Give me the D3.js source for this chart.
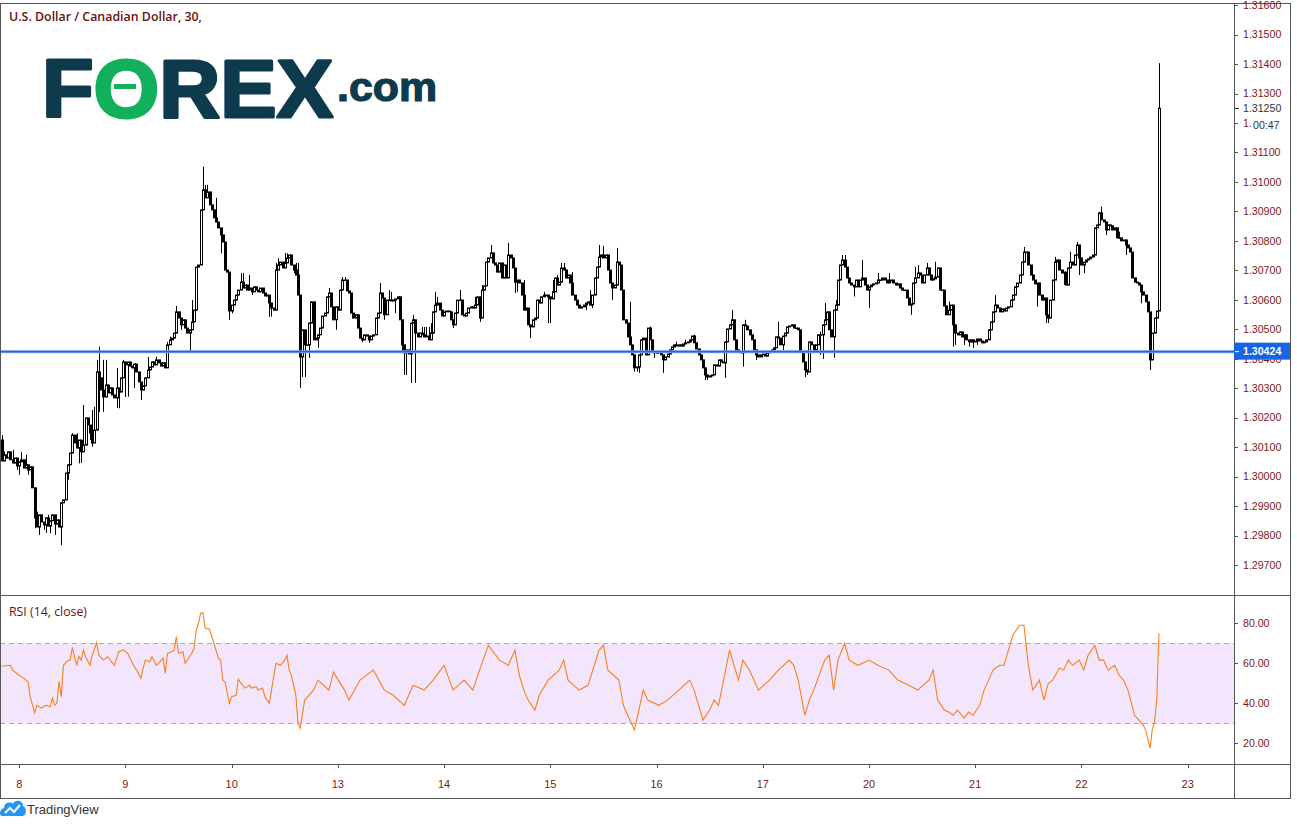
<!DOCTYPE html>
<html><head><meta charset="utf-8">
<script src="https://cdn.jsdelivr.net/npm/d3@7"></script>
<style>
html,body{margin:0;padding:0;background:#fff;}
svg{display:block;}
</style></head><body>
<svg id="c" width="1297" height="828"></svg>
<script>
// ---------------- DATA ----------------
const title = "U.S. Dollar / Canadian Dollar, 30,";
const rsiTitle = "RSI (14, close)";
const dayLabels = ["8","9","10","13","14","15","16","17","20","21","22","23"];
const barsPerDay = 48;           // 30-minute bars
const firstDayBar = 8;           // bar index of the first day boundary
const priceTicks = [1.297,1.298,1.299,1.300,1.301,1.302,1.303,1.304,1.305,1.306,1.307,1.308,1.309,1.310,1.311,1.312,1.313,1.314,1.315,1.316];
const rsiTicks = [20,40,60,80];
const rsiBands = [30,70];
const hLineLevel = 1.30424;
const countdown = "00:47";
const firstOpen = 1.30124;
const closes = [
1.30053,1.30074,1.30063,1.30084,1.30057,1.30046,1.30063,1.30036,1.30050,1.30057,1.30029,1.30040,1.30023,1.30033,1.29962,1.29860,1.29829,1.29870,1.29846,1.29836,
1.29860,1.29832,1.29850,1.29870,1.29839,1.29853,1.29829,1.29911,1.29921,1.30012,1.30040,1.30080,1.30141,1.30114,1.30097,1.30124,1.30084,1.30107,1.30199,1.30175,
1.30148,1.30114,1.30158,1.30355,1.30335,1.30294,1.30270,1.30311,1.30284,1.30301,1.30277,1.30267,1.30301,1.30287,1.30335,1.30389,1.30379,1.30389,1.30375,1.30369,
1.30382,1.30355,1.30321,1.30294,1.30308,1.30335,1.30362,1.30372,1.30389,1.30379,1.30396,1.30386,1.30375,1.30386,1.30369,1.30447,1.30464,1.30470,1.30487,1.30559,
1.30538,1.30515,1.30532,1.30504,1.30487,1.30498,1.30525,1.30565,1.30711,1.30718,1.30905,1.30973,1.30946,1.30966,1.30922,1.30905,1.30878,1.30864,1.30844,1.30820,
1.30796,1.30701,1.30694,1.30562,1.30582,1.30599,1.30616,1.30633,1.30660,1.30640,1.30650,1.30633,1.30640,1.30627,1.30644,1.30633,1.30627,1.30640,1.30623,1.30613,
1.30616,1.30589,1.30572,1.30565,1.30701,1.30718,1.30728,1.30708,1.30725,1.30742,1.30752,1.30718,1.30701,1.30684,1.30616,1.30406,1.30498,1.30447,1.30447,1.30521,
1.30593,1.30464,1.30470,1.30481,1.30504,1.30545,1.30555,1.30610,1.30623,1.30576,1.30532,1.30576,1.30565,1.30633,1.30667,1.30667,1.30630,1.30623,1.30555,1.30538,
1.30549,1.30504,1.30470,1.30464,1.30481,1.30477,1.30464,1.30477,1.30481,1.30538,1.30555,1.30623,1.30606,1.30549,1.30599,1.30599,1.30596,1.30599,1.30603,1.30610,
1.30532,1.30447,1.30420,1.30430,1.30416,1.30521,1.30532,1.30487,1.30474,1.30487,1.30481,1.30474,1.30477,1.30464,1.30487,1.30559,1.30582,1.30589,1.30565,1.30545,
1.30559,1.30562,1.30559,1.30532,1.30515,1.30555,1.30599,1.30599,1.30549,1.30545,1.30555,1.30572,1.30576,1.30572,1.30582,1.30610,1.30538,1.30633,1.30647,1.30728,
1.30742,1.30759,1.30725,1.30718,1.30694,1.30725,1.30674,1.30718,1.30674,1.30752,1.30742,1.30708,1.30660,1.30667,1.30657,1.30616,1.30565,1.30572,1.30515,1.30508,
1.30532,1.30538,1.30599,1.30589,1.30610,1.30616,1.30616,1.30610,1.30603,1.30627,1.30674,1.30650,1.30660,1.30708,1.30701,1.30674,1.30684,1.30657,1.30616,1.30599,
1.30582,1.30572,1.30576,1.30582,1.30589,1.30593,1.30582,1.30616,1.30674,1.30711,1.30745,1.30752,1.30742,1.30752,1.30701,1.30657,1.30640,1.30650,1.30728,1.30718,
1.30633,1.30532,1.30521,1.30474,1.30447,1.30413,1.30369,1.30372,1.30413,1.30464,1.30470,1.30413,1.30504,1.30464,1.30423,1.30420,1.30420,1.30423,1.30413,1.30396,
1.30406,1.30416,1.30430,1.30440,1.30447,1.30443,1.30447,1.30443,1.30450,1.30454,1.30457,1.30464,1.30477,1.30454,1.30433,1.30413,1.30396,1.30369,1.30345,1.30338,
1.30342,1.30345,1.30379,1.30375,1.30396,1.30389,1.30386,1.30457,1.30501,1.30515,1.30532,1.30464,1.30430,1.30423,1.30420,1.30515,1.30511,1.30498,1.30481,1.30464,
1.30430,1.30413,1.30406,1.30413,1.30416,1.30409,1.30420,1.30423,1.30430,1.30437,1.30474,1.30470,1.30447,1.30477,1.30487,1.30508,1.30511,1.30515,1.30504,1.30504,
1.30498,1.30423,1.30389,1.30362,1.30355,1.30457,1.30447,1.30430,1.30447,1.30481,1.30481,1.30515,1.30532,1.30559,1.30498,1.30474,1.30565,1.30582,1.30667,1.30718,
1.30735,1.30711,1.30674,1.30657,1.30650,1.30644,1.30667,1.30644,1.30667,1.30674,1.30650,1.30633,1.30644,1.30650,1.30654,1.30657,1.30667,1.30667,1.30674,1.30667,
1.30657,1.30664,1.30667,1.30657,1.30650,1.30654,1.30640,1.30633,1.30633,1.30606,1.30582,1.30586,1.30657,1.30674,1.30691,1.30684,1.30657,1.30684,1.30708,1.30684,
1.30667,1.30671,1.30677,1.30708,1.30633,1.30633,1.30579,1.30549,1.30565,1.30582,1.30515,1.30487,1.30481,1.30491,1.30474,1.30481,1.30464,1.30457,1.30464,1.30457,
1.30460,1.30467,1.30460,1.30454,1.30457,1.30464,1.30498,1.30525,1.30559,1.30582,1.30572,1.30559,1.30569,1.30562,1.30572,1.30576,1.30599,1.30616,1.30644,1.30657,
1.30684,1.30728,1.30762,1.30762,1.30718,1.30684,1.30667,1.30654,1.30657,1.30616,1.30599,1.30606,1.30549,1.30538,1.30599,1.30667,1.30728,1.30735,1.30701,1.30691,
1.30694,1.30650,1.30708,1.30728,1.30718,1.30752,1.30786,1.30742,1.30718,1.30728,1.30735,1.30739,1.30745,1.30752,1.30844,1.30854,1.30895,1.30871,1.30864,1.30837,
1.30854,1.30851,1.30837,1.30844,1.30810,1.30810,1.30800,1.30803,1.30786,1.30776,1.30762,1.30674,1.30660,1.30657,1.30650,1.30627,1.30616,1.30593,1.30559,1.30396,
1.30487,1.30538,1.30562,1.31250
];
// wick extremes: [bar index, price]
const wickHighs = [[0,1.30141],[1,1.30085],[5,1.30091],[9,1.30084],[11,1.30074],[16,1.29881],[21,1.29870],[32,1.30148],[34,1.30147],[37,1.30243],[41,1.30226],[42,1.30237],[43,1.30396],[44,1.30441],[46,1.30396],[47,1.30396],[52,1.30369],[55,1.30396],[66,1.30406],[70,1.30407],[75,1.30457],[76,1.30475],[79,1.30579],[86,1.30599],[91,1.31052],[92,1.30990],[93,1.30990],[97,1.30946],[108,1.30690],[109,1.30691],[112,1.30684],[124,1.30725],[125,1.30741],[128,1.30759],[129,1.30758],[133,1.30725],[134,1.30725],[141,1.30593],[148,1.30640],[149,1.30623],[154,1.30677],[155,1.30677],[171,1.30657],[175,1.30633],[176,1.30627],[186,1.30549],[190,1.30508],[191,1.30508],[192,1.30508],[193,1.30508],[194,1.30521],[196,1.30627],[197,1.30610],[207,1.30633],[214,1.30610],[217,1.30650],[221,1.30786],[229,1.30793],[230,1.30752],[231,1.30728],[236,1.30667],[245,1.30627],[249,1.30667],[251,1.30684],[252,1.30660],[253,1.30725],[254,1.30725],[258,1.30694],[266,1.30633],[270,1.30786],[272,1.30783],[278,1.30776],[284,1.30593],[293,1.30509],[305,1.30458],[309,1.30464],[313,1.30481],[330,1.30565],[331,1.30532],[336,1.30532],[351,1.30526],[370,1.30492],[372,1.30589],[377,1.30599],[380,1.30752],[381,1.30752],[389,1.30735],[396,1.30691],[401,1.30691],[413,1.30712],[414,1.30718],[418,1.30725],[422,1.30729],[428,1.30594],[449,1.30616],[462,1.30779],[476,1.30746],[483,1.30763],[486,1.30796],[497,1.30916],[505,1.30831],[523,1.31403]];
const wickLows = [[7,1.30023],[8,1.30006],[12,1.30006],[15,1.29825],[17,1.29802],[19,1.29819],[20,1.29809],[22,1.29808],[24,1.29802],[27,1.29768],[30,1.29989],[35,1.30045],[36,1.30046],[40,1.30124],[41,1.30101],[44,1.30219],[46,1.30220],[52,1.30233],[53,1.30232],[56,1.30270],[57,1.30271],[60,1.30300],[63,1.30260],[81,1.30498],[85,1.30423],[99,1.30758],[103,1.30532],[104,1.30554],[113,1.30616],[121,1.30542],[122,1.30543],[132,1.30690],[135,1.30301],[136,1.30338],[137,1.30338],[139,1.30403],[143,1.30437],[151,1.30498],[163,1.30457],[166,1.30454],[173,1.30532],[178,1.30555],[181,1.30420],[182,1.30345],[183,1.30345],[185,1.30318],[187,1.30318],[204,1.30504],[216,1.30525],[232,1.30623],[233,1.30627],[239,1.30470],[247,1.30521],[248,1.30521],[264,1.30565],[267,1.30572],[276,1.30599],[286,1.30356],[287,1.30356],[288,1.30352],[295,1.30403],[299,1.30352],[318,1.30328],[319,1.30328],[327,1.30335],[335,1.30373],[341,1.30396],[353,1.30430],[363,1.30338],[364,1.30345],[370,1.30413],[371,1.30399],[376,1.30403],[385,1.30611],[392,1.30572],[411,1.30549],[430,1.30441],[431,1.30447],[435,1.30447],[437,1.30441],[439,1.30436],[441,1.30447],[468,1.30577],[472,1.30521],[473,1.30521],[480,1.30650],[487,1.30684],[489,1.30690],[499,1.30820],[508,1.30752],[515,1.30588],[519,1.30362]];
// RSI(14) line: bar index and value
const rsiBars = [0,4,5,8,10,12,13,15,16,18,20,22,23,24,25,26,27,28,30,31,32,33,34,35,36,37,38,40,41,43,44,46,48,51,53,55,57,58,60,61,63,64,65,67,68,70,71,73,74,75,77,78,79,80,82,83,86,87,88,89,90,91,92,94,96,98,99,100,101,103,104,106,107,109,110,112,113,115,116,118,119,121,122,124,126,128,129,130,131,133,134,
135,137,141,143,148,150,155,157,162,168,173,177,182,186,191,195,200,204,209,213,216,220,225,229,232,234,236,238,241,243,247,252,254,256,261,265,270,272,274,279,281,283,286,288,290,292,297,301,306,311,313,315,317,320,322,324,329,331,333,335,338,342,347,351,356,358,360,363,365,367,372,374,376,378,381,383,387,392,396,401,405,410,414,419,421,423,426,428,430,432,435,437,439,442,444,446,448,451,453,455,457,460,462,464,466,469,471,473,475,478,480,482,484,487,489,491,494,496,498,500,503,505,507,509,512,514,516,517,519,520,521,522,523];
const rsiValues = [58.5,59,56.6,54,52.6,50.7,43,35.3,39,37.6,39,38.3,42.6,39,40,50.8,43.3,59,61.3,61.6,68,63.3,59,63.3,61.6,66.6,63.3,59,64,70.3,64,61.6,63.3,59,65.8,66.7,65,62.6,58.3,56.6,52.6,57.6,61.6,60.8,63.3,59,60,62.6,55,65,65.8,66.6,73.3,65,65.8,60,65,67.6,76.6,80,85,85.3,77.6,77,70,62.6,61.6,51.6,50.8,40,43.3,44,52,49,47.6,49,47.6,48.3,46.6,47.6,43.3,40,46.6,60,59,61.6,64,56.6,54,44,30,
27.6,41.6,46.6,51.6,46.6,55.6,46.6,41.6,51.6,56.6,46.6,44,39,49,46.6,51.6,59,46.6,51.6,46.6,56.6,69,61.6,59,66.6,54,46.6,41.6,36.6,44,51.6,56.6,61.6,51.6,46.6,49,66.6,69,56.6,51.6,39,34,26.6,36.6,46.6,41.6,39,41.6,46.6,51.6,46.6,39,31.6,36.6,41.6,39,66.6,59,51.6,61.6,56.6,46.6,51.6,56.6,61.6,59,51.6,34,41.6,46.6,61.6,64,46.6,61.6,70,61.6,59,61.6,59,56.6,51.6,49,46.6,51.6,56.6,41.6,36.6,35.6,34,36.6,32.6,35.6,34,39,46.6,51.6,56.6,59,59,66.6,74,79,79,59,46.6,51.6,41.6,50,51.6,57.6,56.6,61.6,59,61.6,56.6,64,69,61.6,61.6,56.6,59,54,51.6,46.6,34,31.6,29,26.6,17.6,27,30.6,41.6,75];

(function(){
// ---------------- LAYOUT ----------------
const plotR = 1234, axisR = 1290, topY = 3, priceB = 595, rsiB = 764, xAxB = 798.5;
const textRed = "#7d1717";
const svg = d3.select("#c");
svg.append("rect").attr("width",1297).attr("height",828).attr("fill","#fff");

const x = d3.scaleLinear().domain([0, firstDayBar + barsPerDay*(dayLabels.length-1)]).range([1.5, 1187.7]);
const y = d3.scaleLinear().domain([1.297, 1.316]).range([565, 5.1]);
const yR = d3.scaleLinear().domain([20, 80]).range([743.3, 623.3]);

const defs = svg.append("defs");
defs.append("clipPath").attr("id","cp").append("rect").attr("x",0).attr("y",topY).attr("width",plotR).attr("height",priceB-topY);
defs.append("clipPath").attr("id","cr").append("rect").attr("x",0).attr("y",priceB).attr("width",plotR).attr("height",rsiB-priceB);

// RSI band
const rg = svg.append("g");
rg.append("rect").attr("x",0).attr("width",plotR)
  .attr("y",yR(rsiBands[1])).attr("height",yR(rsiBands[0])-yR(rsiBands[1]))
  .attr("fill","#f3e6fc");
rg.selectAll("line.band").data(rsiBands).join("line")
  .attr("x1",0).attr("x2",plotR).attr("y1",d=>Math.round(yR(d))+0.5).attr("y2",d=>Math.round(yR(d))+0.5)
  .attr("stroke","#b3a3b9").attr("stroke-dasharray","5,4").attr("stroke-width",1);

// Candles
const hiMap = new Map(), loMap = new Map();
wickHighs.forEach(([i,p])=>hiMap.set(i, Math.max(p, hiMap.has(i)?hiMap.get(i):-Infinity)));
wickLows.forEach(([i,p])=>loMap.set(i, Math.min(p, loMap.has(i)?loMap.get(i):Infinity)));
const candles = closes.map((c,i)=>{
  const o = i ? closes[i-1] : firstOpen;
  let h = Math.max(o,c), l = Math.min(o,c);
  if (hiMap.has(i)) h = Math.max(h, hiMap.get(i));
  if (loMap.has(i)) l = Math.min(l, loMap.get(i));
  return {i,o,c,h,l};
});
const cg = svg.append("g").attr("clip-path","url(#cp)");
candles.forEach(d=>{
  const r = Math.round(x(d.i));
  cg.append("line").attr("x1",r+0.5).attr("x2",r+0.5).attr("y1",y(d.h)).attr("y2",y(d.l))
    .attr("stroke","#000").attr("stroke-width",1);
  const t = y(Math.max(d.o,d.c)), b = y(Math.min(d.o,d.c));
  if (d.c >= d.o) {
    cg.append("rect").attr("x",r-0.5).attr("y",t).attr("width",2).attr("height",Math.max(0.5,b-t))
      .attr("fill","#fff").attr("stroke","#000").attr("stroke-width",1);
  } else {
    cg.append("rect").attr("x",r-1).attr("y",t-0.5).attr("width",3).attr("height",Math.max(1,b-t+1))
      .attr("fill","#000");
  }
});

// Horizontal line
svg.append("line").attr("x1",0).attr("x2",plotR).attr("y1",y(hLineLevel)).attr("y2",y(hLineLevel))
  .attr("stroke","#8fb2f2").attr("stroke-width",3);
svg.append("line").attr("x1",0).attr("x2",plotR).attr("y1",y(hLineLevel)).attr("y2",y(hLineLevel))
  .attr("stroke","#2563e6").attr("stroke-width",1.6);

// RSI line
const rsiPts = rsiBars.map((b,k)=>[b, rsiValues[k]]);
svg.append("path").attr("clip-path","url(#cr)").datum(rsiPts)
  .attr("d", d3.line().x(d=>x(d[0])).y(d=>yR(d[1])))
  .attr("fill","none").attr("stroke","#f7801f").attr("stroke-width",1.1);

// Frame
const fr = svg.append("g").attr("stroke","#555").attr("stroke-width",1).attr("shape-rendering","crispEdges");
fr.append("rect").attr("x",0.5).attr("y",topY+0.5).attr("width",axisR-0.5).attr("height",xAxB-topY-0.5).attr("fill","none");
fr.append("line").attr("x1",0).attr("x2",axisR).attr("y1",priceB+0.5).attr("y2",priceB+0.5);
fr.append("line").attr("x1",0).attr("x2",axisR).attr("y1",rsiB+0.5).attr("y2",rsiB+0.5);
fr.append("line").attr("x1",plotR+0.5).attr("x2",plotR+0.5).attr("y1",topY).attr("y2",xAxB);

// Price axis
const pa = svg.append("g");
pa.selectAll("line").data(priceTicks).join("line")
  .attr("x1",plotR).attr("x2",plotR+4).attr("y1",d=>Math.round(y(d))+0.5).attr("y2",d=>Math.round(y(d))+0.5)
  .attr("stroke","#555").attr("shape-rendering","crispEdges");
pa.selectAll("text").data(priceTicks).join("text")
  .attr("x",plotR+9).attr("y",d=>y(d)).attr("dy","0.36em")
  .attr("font-family","Liberation Sans, Arial, sans-serif").attr("font-size",10.6)
  .attr("fill",textRed).text(d=>d.toFixed(5));

// Current price + countdown
const last = closes[closes.length-1];
svg.append("rect").attr("x",plotR+1).attr("y",y(last)-8).attr("width",axisR-plotR-2).attr("height",16).attr("fill","#fff");
svg.append("line").attr("x1",plotR+1).attr("x2",plotR+5).attr("y1",Math.round(y(last))+0.5).attr("y2",Math.round(y(last))+0.5).attr("stroke","#333");
svg.append("text").attr("x",plotR+9).attr("y",y(last)).attr("dy","0.36em")
  .attr("font-family","Liberation Sans, Arial, sans-serif").attr("font-size",10.6).attr("fill","#333").text(last.toFixed(5));
svg.append("rect").attr("x",plotR+17).attr("y",y(last)+9).attr("width",axisR-plotR-18).attr("height",15).attr("fill","#fff");
svg.append("text").attr("x",plotR+19).attr("y",y(last)+17).attr("dy","0.36em")
  .attr("font-family","Liberation Sans, Arial, sans-serif").attr("font-size",10.6).attr("fill","#333").text(countdown);

// Blue level label
svg.append("rect").attr("x",plotR).attr("y",y(hLineLevel)-9).attr("width",axisR-plotR).attr("height",17).attr("fill","#1565e6");
svg.append("line").attr("x1",plotR+1).attr("x2",plotR+5).attr("y1",y(hLineLevel)).attr("y2",y(hLineLevel)).attr("stroke","#fff");
svg.append("text").attr("x",plotR+9).attr("y",y(hLineLevel)).attr("dy","0.36em")
  .attr("font-family","Liberation Sans, Arial, sans-serif").attr("font-size",10.6).attr("font-weight","bold")
  .attr("fill","#fff").text(hLineLevel.toFixed(5));

// RSI axis
const ra = svg.append("g");
ra.selectAll("line").data(rsiTicks).join("line")
  .attr("x1",plotR).attr("x2",plotR+4).attr("y1",d=>Math.round(yR(d))+0.5).attr("y2",d=>Math.round(yR(d))+0.5)
  .attr("stroke","#555").attr("shape-rendering","crispEdges");
ra.selectAll("text").data(rsiTicks).join("text")
  .attr("x",plotR+9).attr("y",d=>yR(d)).attr("dy","0.36em")
  .attr("font-family","Liberation Sans, Arial, sans-serif").attr("font-size",10.6)
  .attr("fill",textRed).text(d=>d.toFixed(2));

// X axis
const xa = svg.append("g");
const dayBars = dayLabels.map((s,k)=>firstDayBar + k*barsPerDay);
xa.selectAll("line").data(dayBars).join("line")
  .attr("x1",d=>Math.round(x(d))+0.5).attr("x2",d=>Math.round(x(d))+0.5).attr("y1",rsiB).attr("y2",rsiB+4)
  .attr("stroke","#555").attr("shape-rendering","crispEdges");
xa.selectAll("text").data(dayLabels).join("text")
  .attr("x",(d,k)=>x(dayBars[k])).attr("y",784).attr("dy","0.36em").attr("text-anchor","middle")
  .attr("font-family","Liberation Sans, Arial, sans-serif").attr("font-size",11)
  .attr("fill",textRed).text(d=>d);

// Titles
svg.append("text").attr("x",9).attr("y",21).attr("font-family","Open Sans, Liberation Sans, sans-serif")
  .attr("font-size",12.5).attr("font-weight",600).attr("fill","#6b1010")
  .attr("textLength",193).attr("lengthAdjust","spacingAndGlyphs").text(title);
svg.append("text").attr("x",9).attr("y",616).attr("font-family","Open Sans, Liberation Sans, sans-serif")
  .attr("font-size",12).attr("fill","#6b1010")
  .attr("textLength",78).attr("lengthAdjust","spacingAndGlyphs").text(rsiTitle);

// FOREX.com logo
const lg = svg.append("g");
const ft = lg.append("text").attr("x",42).attr("y",117)
  .attr("font-family","Liberation Sans, Arial, sans-serif").attr("font-weight","bold").attr("font-size",82)
  .attr("textLength",291).attr("lengthAdjust","spacingAndGlyphs")
  .attr("stroke-width",3).attr("stroke-linejoin","round");
ft.append("tspan").attr("fill","#0d3a4c").attr("stroke","#0d3a4c").text("F");
ft.append("tspan").attr("fill","#12b05b").attr("stroke","#12b05b").text("O");
ft.append("tspan").attr("fill","#0d3a4c").attr("stroke","#0d3a4c").text("REX");
lg.append("rect").attr("x",114).attr("y",84).attr("width",22).attr("height",5).attr("fill","#12b05b");
lg.append("text").attr("x",337).attr("y",101)
  .attr("font-family","Liberation Sans, Arial, sans-serif").attr("font-weight","bold").attr("font-size",40)
  .attr("fill","#0d3a4c").attr("stroke","#0d3a4c").attr("stroke-width",1.2)
  .attr("textLength",100).attr("lengthAdjust","spacingAndGlyphs").text(".com");

// TradingView mark
const tv = svg.append("g");
tv.append("path").attr("d","M2,816 C-1,816 -1,809 4,808 C4,803 10,801 13,804 C15,799 23,800 23,806 C27,807 27,816 22,816 Z").attr("fill","#2196f3");
tv.append("path").attr("d","M5,813 L10,808 L14,812 L20,805").attr("fill","none").attr("stroke","#fff").attr("stroke-width",2);
tv.append("text").attr("x",27).attr("y",814).attr("font-family","Liberation Sans, Arial, sans-serif")
  .attr("font-size",13).attr("fill","#333").text("TradingView");
})();
</script>
</body></html>
